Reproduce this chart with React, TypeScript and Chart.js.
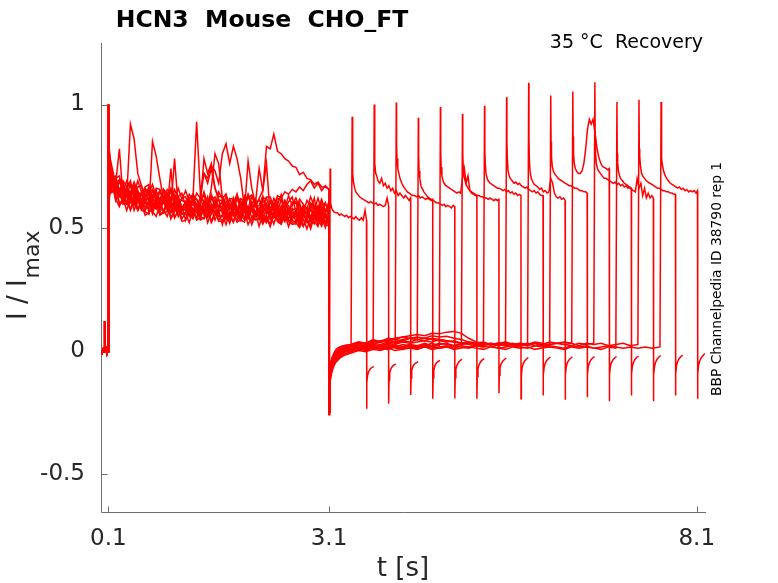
import React, { useEffect, useRef } from "react";
import { Chart, registerables } from "chart.js";

Chart.register(...registerables);

// ---------- axes / labels ----------
const TITLE = "HCN3  Mouse  CHO_FT";
const SUBTITLE = "35 °C  Recovery";
const SIDE_NOTE = "BBP Channelpedia ID 38790 rep 1";
const X_LABEL = "t [s]";
const Y_LABEL_MAIN = "I / I";
const Y_LABEL_SUB = "max";
const X_TICKS = [0.1, 3.1, 8.1];
const X_TICK_LABELS = ["0.1", "3.1", "8.1"];
const Y_TICKS = [-0.5, 0, 0.5, 1];
const Y_TICK_LABELS = ["-0.5", "0", "0.5", "1"];
const X_MIN = 0;
const X_MAX = 8.226;
const Y_MIN = -0.66;
const Y_MAX = 1.25;

// ---------- time grids (s) ----------
const BASE0_T = [0, 0.015, 0.03, 0.045, 0.05, 0.055, 0.065, 0.08, 0.09, 0.099];
const BASE0_V = [0, -0.01, 0.005, -0.005, 0.12, 0.0, 0.01, -0.01, 0.005, -0.005];

const PRE_T = [
  0.1, 0.104, 0.112, 0.125,
  0.15, 0.2, 0.25, 0.3, 0.35, 0.4, 0.45, 0.5, 0.55, 0.6,
  0.65, 0.7, 0.75, 0.8, 0.85, 0.9, 0.95, 1.0, 1.05, 1.1,
  1.15, 1.2, 1.25, 1.3, 1.35, 1.4, 1.45, 1.5, 1.55, 1.6,
  1.65, 1.7, 1.75, 1.8, 1.85, 1.9, 1.95, 2.0, 2.05, 2.1,
  2.15, 2.2, 2.25, 2.3, 2.35, 2.4, 2.45, 2.5, 2.55, 2.6,
  2.65, 2.7, 2.75, 2.8, 2.85, 2.9, 2.95, 3.0, 3.05, 3.1,
];

// prepulse (0.1 – 3.1 s), one array per sweep
const PRE_0 = [1.0, 0.84, 0.74, 0.70,
  0.70, 0.63, 0.65, 0.60, 0.645, 0.62, 0.595, 0.645, 0.60, 0.585,
  0.595, 0.63, 0.58, 0.605, 0.565, 0.61, 0.60, 0.565, 0.615, 0.57,
  0.605, 0.565, 0.545, 0.595, 0.575, 0.555, 0.605, 0.555, 0.585, 0.545,
  0.547, 0.577, 0.597, 0.547, 0.557, 0.597, 0.537, 0.577, 0.587, 0.547,
  0.569, 0.529, 0.579, 0.579, 0.539, 0.549, 0.589, 0.529, 0.559, 0.579,
  0.52, 0.57, 0.55, 0.53, 0.58, 0.54, 0.53, 0.57, 0.52, 0.56];
const PRE_1 = [1.0, 0.88, 0.79, 0.74,
  0.70, 0.71, 0.65, 0.67, 0.625, 0.92, 0.86, 0.72, 0.67, 0.625,
  0.665, 0.62, 0.60, 0.645, 0.625, 0.60, 0.65, 0.595, 0.625, 0.58,
  0.585, 0.615, 0.635, 0.585, 0.595, 0.635, 0.575, 0.615, 0.625, 0.585,
  0.607, 0.567, 0.617, 0.617, 0.577, 0.587, 0.627, 0.567, 0.597, 0.617,
  0.559, 0.609, 0.589, 0.569, 0.619, 0.579, 0.569, 0.609, 0.559, 0.599,
  0.60, 0.56, 0.59, 0.55, 0.60, 0.58, 0.56, 0.61, 0.57, 0.56];
const PRE_2 = [0.99, 0.80, 0.68, 0.64,
  0.685, 0.615, 0.585, 0.625, 0.60, 0.575, 0.62, 0.57, 0.595, 0.55,
  0.56, 0.585, 0.605, 0.55, 0.56, 0.595, 0.535, 0.57, 0.58, 0.535,
  0.56, 0.52, 0.57, 0.57, 0.53, 0.54, 0.58, 0.52, 0.55, 0.57,
  0.512, 0.562, 0.542, 0.522, 0.572, 0.532, 0.522, 0.562, 0.512, 0.552,
  0.554, 0.514, 0.544, 0.504, 0.554, 0.534, 0.514, 0.564, 0.524, 0.514,
  0.515, 0.555, 0.505, 0.535, 0.495, 0.545, 0.535, 0.505, 0.555, 0.515];
const PRE_3 = [1.0, 0.90, 0.80, 0.76,
  0.70, 0.70, 0.71, 0.65, 0.655, 0.69, 0.625, 0.665, 0.67, 0.625,
  0.655, 0.61, 0.66, 0.655, 0.615, 0.62, 0.66, 0.595, 0.625, 0.64,
  0.585, 0.635, 0.615, 0.93, 0.645, 0.72, 0.68, 0.74, 0.66, 0.625,
  0.627, 0.587, 0.617, 0.577, 0.627, 0.607, 0.587, 0.637, 0.597, 0.587,
  0.589, 0.629, 0.579, 0.609, 0.569, 0.619, 0.609, 0.579, 0.629, 0.589,
  0.62, 0.58, 0.56, 0.61, 0.59, 0.57, 0.62, 0.57, 0.60, 0.56];
const PRE_4 = [1.0, 0.83, 0.73, 0.69,
  0.68, 0.61, 0.65, 0.64, 0.595, 0.60, 0.635, 0.575, 0.60, 0.615,
  0.565, 0.85, 0.79, 0.70, 0.615, 0.57, 0.56, 0.595, 0.545, 0.58,
  0.585, 0.545, 0.575, 0.535, 0.585, 0.565, 0.545, 0.595, 0.555, 0.545,
  0.547, 0.587, 0.537, 0.567, 0.527, 0.577, 0.567, 0.537, 0.587, 0.547,
  0.579, 0.539, 0.519, 0.569, 0.549, 0.529, 0.579, 0.529, 0.559, 0.519,
  0.52, 0.55, 0.57, 0.52, 0.53, 0.57, 0.51, 0.55, 0.56, 0.52];
const PRE_5 = [1.0, 0.86, 0.77, 0.72,
  0.66, 0.68, 0.82, 0.62, 0.665, 0.62, 0.605, 0.645, 0.59, 0.625,
  0.635, 0.59, 0.62, 0.575, 0.625, 0.60, 0.58, 0.78, 0.585, 0.57,
  0.575, 0.615, 0.565, 0.595, 0.555, 0.605, 0.595, 0.565, 0.615, 0.575,
  0.607, 0.567, 0.547, 0.597, 0.577, 0.557, 0.607, 0.557, 0.587, 0.547,
  0.549, 0.579, 0.599, 0.549, 0.559, 0.599, 0.539, 0.579, 0.589, 0.549,
  0.57, 0.53, 0.58, 0.58, 0.54, 0.55, 0.59, 0.53, 0.56, 0.58];
const PRE_6 = [1.0, 0.91, 0.82, 0.78,
  0.745, 0.675, 0.695, 0.645, 0.69, 0.665, 0.64, 0.69, 0.645, 0.63,
  0.64, 0.675, 0.625, 0.65, 0.61, 0.655, 0.645, 0.61, 0.66, 0.615,
  0.65, 0.61, 0.59, 0.64, 0.62, 0.72, 0.70, 0.75, 0.73, 0.68,
  0.80, 0.84, 0.76, 0.83, 0.78, 0.70, 0.582, 0.622, 0.632, 0.592,
  0.614, 0.574, 0.624, 0.624, 0.584, 0.594, 0.634, 0.574, 0.604, 0.624,
  0.565, 0.615, 0.595, 0.575, 0.625, 0.585, 0.575, 0.615, 0.565, 0.605];
const PRE_7 = [0.98, 0.78, 0.67, 0.64,
  0.645, 0.655, 0.595, 0.615, 0.57, 0.615, 0.60, 0.57, 0.615, 0.57,
  0.61, 0.565, 0.545, 0.59, 0.57, 0.545, 0.595, 0.54, 0.57, 0.525,
  0.53, 0.56, 0.58, 0.53, 0.54, 0.58, 0.52, 0.56, 0.57, 0.53,
  0.552, 0.512, 0.562, 0.562, 0.522, 0.532, 0.572, 0.512, 0.542, 0.562,
  0.504, 0.554, 0.534, 0.514, 0.564, 0.524, 0.514, 0.554, 0.504, 0.544,
  0.545, 0.505, 0.535, 0.495, 0.545, 0.525, 0.505, 0.555, 0.515, 0.505];
const PRE_8 = [1.0, 0.87, 0.78, 0.73,
  0.73, 0.66, 0.63, 0.67, 0.645, 0.62, 0.665, 0.615, 0.64, 0.595,
  0.605, 0.63, 0.65, 0.595, 0.605, 0.64, 0.58, 0.615, 0.625, 0.58,
  0.605, 0.565, 0.615, 0.615, 0.575, 0.585, 0.625, 0.565, 0.595, 0.615,
  0.557, 0.607, 0.587, 0.567, 0.617, 0.577, 0.567, 0.77, 0.66, 0.597,
  0.74, 0.65, 0.76, 0.549, 0.599, 0.579, 0.559, 0.609, 0.569, 0.559,
  0.56, 0.60, 0.55, 0.58, 0.54, 0.59, 0.58, 0.55, 0.60, 0.56];
const PRE_9 = [1.0, 0.82, 0.71, 0.67,
  0.645, 0.645, 0.655, 0.595, 0.60, 0.635, 0.57, 0.61, 0.615, 0.57,
  0.60, 0.555, 0.605, 0.60, 0.56, 0.565, 0.605, 0.54, 0.57, 0.585,
  0.53, 0.58, 0.56, 0.54, 0.59, 0.55, 0.54, 0.58, 0.53, 0.57,
  0.572, 0.532, 0.562, 0.522, 0.572, 0.552, 0.532, 0.582, 0.542, 0.532,
  0.534, 0.574, 0.524, 0.554, 0.514, 0.564, 0.554, 0.524, 0.574, 0.534,
  0.565, 0.525, 0.505, 0.555, 0.535, 0.515, 0.565, 0.515, 0.545, 0.505];
const PRE_10 = [1.0, 0.88, 0.79, 0.74,
  0.72, 0.65, 0.69, 0.68, 0.635, 0.64, 0.675, 0.615, 0.64, 0.655,
  0.605, 0.65, 0.63, 0.605, 0.655, 0.61, 0.60, 0.635, 0.585, 0.62,
  0.625, 0.585, 0.615, 0.575, 0.625, 0.605, 0.585, 0.635, 0.595, 0.585,
  0.587, 0.627, 0.577, 0.607, 0.567, 0.617, 0.607, 0.577, 0.627, 0.587,
  0.619, 0.65, 0.83, 0.82, 0.88, 0.81, 0.80, 0.78, 0.77, 0.75,
  0.745, 0.715, 0.725, 0.70, 0.695, 0.675, 0.685, 0.665, 0.665, 0.655];
const PRE_11 = [1.0, 0.84, 0.75, 0.70,
  0.645, 0.665, 0.635, 0.605, 0.65, 0.605, 0.59, 0.63, 0.575, 0.61,
  0.62, 0.575, 0.605, 0.56, 0.61, 0.585, 0.565, 0.61, 0.57, 0.555,
  0.56, 0.60, 0.55, 0.58, 0.54, 0.59, 0.58, 0.66, 0.80, 0.76,
  0.62, 0.552, 0.532, 0.582, 0.562, 0.542, 0.592, 0.542, 0.572, 0.532,
  0.534, 0.564, 0.584, 0.534, 0.544, 0.584, 0.524, 0.564, 0.574, 0.534,
  0.555, 0.515, 0.565, 0.565, 0.525, 0.535, 0.575, 0.515, 0.545, 0.565];
const PRE_12 = [1.0, 0.90, 0.81, 0.77,
  0.70, 0.70, 0.65, 0.69, 0.665, 0.64, 0.685, 0.645, 0.63, 0.665,
  0.675, 0.62, 0.65, 0.605, 0.655, 0.64, 0.61, 0.655, 0.615, 0.61,
  0.605, 0.585, 0.635, 0.615, 0.595, 0.645, 0.595, 0.625, 0.585, 0.645,
  0.617, 0.637, 0.587, 0.597, 0.637, 0.577, 0.617, 0.627, 0.587, 0.587,
  0.569, 0.619, 0.619, 0.579, 0.589, 0.63, 0.62, 0.645, 0.635, 0.655,
  0.645, 0.665, 0.65, 0.675, 0.69, 0.66, 0.68, 0.65, 0.67, 0.655];
const PRE_13 = [1.0, 0.85, 0.76, 0.71,
  0.675, 0.685, 0.625, 0.645, 0.60, 0.645, 0.63, 0.60, 0.645, 0.60,
  0.64, 0.595, 0.575, 0.62, 0.60, 0.575, 0.74, 0.57, 0.60, 0.555,
  0.56, 0.59, 0.61, 0.56, 0.57, 0.61, 0.55, 0.59, 0.60, 0.56,
  0.582, 0.542, 0.592, 0.592, 0.552, 0.562, 0.602, 0.542, 0.572, 0.592,
  0.534, 0.584, 0.564, 0.544, 0.594, 0.554, 0.544, 0.584, 0.534, 0.574,
  0.575, 0.535, 0.565, 0.525, 0.575, 0.62, 0.535, 0.585, 0.545, 0.535];
const PRE_14 = [1.0, 0.87, 0.78, 0.73,
  0.695, 0.645, 0.685, 0.655, 0.63, 0.675, 0.62, 0.65, 0.605, 0.66,
  0.64, 0.655, 0.605, 0.61, 0.65, 0.585, 0.625, 0.63, 0.59, 0.585,
  0.57, 0.62, 0.62, 0.58, 0.59, 0.78, 0.72, 0.76, 0.66, 0.61,
  0.612, 0.592, 0.572, 0.622, 0.582, 0.572, 0.612, 0.562, 0.602, 0.562,
  0.564, 0.594, 0.554, 0.604, 0.584, 0.564, 0.614, 0.574, 0.564, 0.604,
  0.605, 0.555, 0.585, 0.545, 0.595, 0.585, 0.555, 0.605, 0.565, 0.565];
const PRE_15 = [0.99, 0.80, 0.70, 0.66,
  0.67, 0.66, 0.60, 0.60, 0.635, 0.57, 0.605, 0.615, 0.57, 0.565,
  0.555, 0.60, 0.60, 0.555, 0.565, 0.60, 0.54, 0.565, 0.585, 0.57,
  0.575, 0.555, 0.535, 0.585, 0.545, 0.535, 0.575, 0.525, 0.565, 0.525,
  0.527, 0.557, 0.517, 0.567, 0.547, 0.527, 0.577, 0.537, 0.527, 0.567,
  0.569, 0.519, 0.549, 0.509, 0.559, 0.549, 0.519, 0.569, 0.529, 0.529,
  0.52, 0.50, 0.55, 0.53, 0.51, 0.56, 0.51, 0.54, 0.50, 0.56];
const PRE = [PRE_0, PRE_1, PRE_2, PRE_3, PRE_4, PRE_5, PRE_6, PRE_7,
  PRE_8, PRE_9, PRE_10, PRE_11, PRE_12, PRE_13, PRE_14, PRE_15];

// interval after the prepulse (3.1 s – test onset)
const HEAD_T = [3.101, 3.105, 3.11, 3.12, 3.14, 3.17, 3.2, 3.25, 3.3];
const INT_HEAD = [
  [-0.24, -0.16, -0.11],
  [-0.24, -0.17, -0.12, -0.08, -0.05, -0.03, -0.015, 0.0, 0.008],
  [-0.26, -0.2, -0.15, -0.11, -0.075, -0.05, -0.035, -0.02, -0.008],
  [-0.22, -0.15, -0.1, -0.065, -0.04, -0.02, -0.008, 0.005, 0.012],
  [-0.25, -0.16, -0.1, -0.06, -0.03, -0.01, 0.005, 0.015, 0.02],
  [-0.25, -0.19, -0.14, -0.1, -0.07, -0.045, -0.03, -0.015, -0.005],
  [-0.23, -0.15, -0.1, -0.065, -0.04, -0.02, -0.005, 0.005, 0.01],
  [-0.26, -0.2, -0.15, -0.11, -0.08, -0.055, -0.04, -0.025, -0.015],
  [-0.24, -0.17, -0.12, -0.08, -0.05, -0.03, -0.015, -0.005, 0.005],
  [-0.25, -0.16, -0.1, -0.065, -0.04, -0.02, -0.005, 0.008, 0.015],
  [-0.24, -0.18, -0.13, -0.095, -0.065, -0.045, -0.03, -0.018, -0.008],
  [-0.22, -0.14, -0.09, -0.055, -0.03, -0.01, 0.005, 0.015, 0.02],
  [-0.25, -0.17, -0.12, -0.08, -0.05, -0.03, -0.015, 0.0, 0.008],
  [-0.26, -0.2, -0.15, -0.115, -0.085, -0.06, -0.045, -0.03, -0.02],
  [-0.24, -0.17, -0.12, -0.085, -0.055, -0.035, -0.02, -0.008, 0.0],
  [-0.25, -0.18, -0.13, -0.09, -0.06, -0.04, -0.025, -0.012, -0.004],
];
const BODY_T = [
  3.4, 3.5, 3.6, 3.7, 3.8, 3.9, 4.0, 4.1, 4.2, 4.3,
  4.4, 4.5, 4.6, 4.7, 4.8, 4.9, 5.0, 5.1, 5.2, 5.3,
  5.4, 5.5, 5.6, 5.7, 5.8, 5.9, 6.0, 6.1, 6.2, 6.3,
  6.4, 6.5, 6.6, 6.7, 6.8, 6.9, 7.0, 7.1, 7.2, 7.3,
  7.4, 7.5, 7.6,
];
const INT_BODY = [
  [],
  [0.01],
  [0.02, 0.01, 0.025, 0.015],
  [0.0, 0.015, 0.005, 0.02, 0.01, 0.025, 0.015],
  [0.025, 0.035, 0.03, 0.045, 0.035, 0.05, 0.045, 0.055, 0.05, 0.045],
  [0.005, 0.0, 0.015, 0.005, 0.02, 0.01, 0.02, 0.015, 0.025, 0.015,
    0.02, 0.03, 0.02],
  [0.015, 0.025, 0.02, 0.03, 0.025, 0.035, 0.03, 0.04, 0.035, 0.045,
    0.04, 0.05, 0.045, 0.04, 0.035, 0.03],
  [-0.005, 0.005, 0.0, 0.01, 0.005, 0.015, 0.01, 0.005, 0.015, 0.01,
    0.02, 0.01, 0.015, 0.02, 0.01, 0.02, 0.015, 0.02, 0.015],
  [0.01, 0.02, 0.015, 0.025, 0.02, 0.03, 0.025, 0.035, 0.03, 0.035,
    0.04, 0.035, 0.045, 0.04, 0.035, 0.03, 0.035, 0.025, 0.03, 0.025,
    0.03, 0.02],
  [0.02, 0.03, 0.025, 0.035, 0.04, 0.045, 0.05, 0.055, 0.06, 0.065,
    0.06, 0.07, 0.068, 0.075, 0.078, 0.07, 0.05, 0.035, 0.03, 0.025,
    0.03, 0.02, 0.025, 0.02, 0.025],
  [0.0, 0.01, 0.005, 0.015, 0.01, 0.02, 0.015, 0.025, 0.02, 0.015,
    0.025, 0.02, 0.03, 0.025, 0.02, 0.03, 0.025, 0.02, 0.03, 0.025,
    0.02, 0.03, 0.02, 0.025, 0.03, 0.02, 0.025, 0.02],
  [0.025, 0.035, 0.03, 0.04, 0.035, 0.04, 0.045, 0.04, 0.05, 0.045,
    0.05, 0.045, 0.04, 0.035, 0.04, 0.03, 0.035, 0.03, 0.035, 0.025,
    0.03, 0.035, 0.025, 0.03, 0.025, 0.035, 0.03, 0.025, 0.03, 0.035,
    0.03],
  [0.015, 0.025, 0.02, 0.03, 0.035, 0.04, 0.035, 0.045, 0.05, 0.055,
    0.05, 0.06, 0.055, 0.058, 0.05, 0.045, 0.035, 0.03, 0.025, 0.03,
    0.02, 0.025, 0.03, 0.02, 0.025, 0.03, 0.02, 0.025, 0.03, 0.025,
    0.02, 0.03, 0.025, 0.03],
  [-0.01, 0.0, -0.005, 0.005, 0.0, 0.01, 0.0, 0.005, 0.01, 0.005,
    0.015, 0.005, 0.01, 0.015, 0.005, 0.01, 0.015, 0.01, 0.005, 0.015,
    0.01, 0.005, 0.015, 0.01, 0.015, 0.005, 0.01, 0.015, 0.01, 0.005,
    0.015, 0.01, 0.015, 0.01, 0.005, 0.015, 0.01],
  [0.005, 0.015, 0.01, 0.02, 0.015, 0.025, 0.02, 0.015, 0.025, 0.02,
    0.03, 0.02, 0.025, 0.03, 0.02, 0.025, 0.03, 0.025, 0.02, 0.03,
    0.025, 0.035, 0.025, 0.03, 0.02, 0.03, 0.025, 0.035, 0.03, 0.025,
    0.03, 0.02, 0.03, 0.025, 0.03, 0.02, 0.025, 0.03, 0.02, 0.025],
  [0.0, 0.01, 0.005, 0.015, 0.01, 0.005, 0.015, 0.01, 0.02, 0.01,
    0.015, 0.02, 0.01, 0.015, 0.02, 0.015, 0.01, 0.02, 0.015, 0.02,
    0.01, 0.015, 0.02, 0.015, 0.01, 0.02, 0.015, 0.02, 0.015, 0.01,
    0.02, 0.015, 0.02, 0.01, 0.015, 0.02, 0.015, 0.01, 0.015, 0.01,
    0.015, 0.01, 0.015],
];

// test pulse (onset → end), then tail
const TEST_ON = [3.115, 3.415, 3.715, 4.015, 4.315, 4.615, 4.915, 5.215,
  5.515, 5.815, 6.115, 6.415, 6.715, 7.015, 7.315, 7.615];
const TEST_OFF = [3.61, 3.91, 4.21, 4.51, 4.81, 5.11, 5.41, 5.71,
  6.01, 6.31, 6.61, 6.91, 7.21, 7.51, 7.81, 8.11];
const TEST_DT = [0, 0.004, 0.01, 0.02, 0.035, 0.05, 0.075, 0.1, 0.125, 0.15,
  0.175, 0.2, 0.225, 0.25, 0.275, 0.3, 0.325, 0.35, 0.375, 0.4,
  0.425, 0.45, 0.475, 0.495];
const TEST = [
  [0.74, 0.64, 0.60, 0.58, 0.57, 0.565, 0.56, 0.56, 0.55, 0.555, 0.55, 0.545, 0.55, 0.54, 0.545, 0.54, 0.535, 0.545, 0.535, 0.53, 0.54, 0.53, 0.57, 0.53],
  [0.95, 0.80, 0.72, 0.68, 0.66, 0.645, 0.635, 0.625, 0.62, 0.615, 0.61, 0.605, 0.60, 0.605, 0.60, 0.595, 0.60, 0.59, 0.595, 0.59, 0.585, 0.59, 0.62, 0.59],
  [1.0, 0.82, 0.76, 0.72, 0.71, 0.69, 0.68, 0.70, 0.67, 0.68, 0.66, 0.67, 0.65, 0.66, 0.64, 0.65, 0.63, 0.64, 0.63, 0.62, 0.63, 0.62, 0.61, 0.62],
  [1.008, 0.83, 0.78, 0.74, 0.72, 0.70, 0.68, 0.665, 0.655, 0.645, 0.64, 0.635, 0.63, 0.63, 0.625, 0.63, 0.62, 0.625, 0.62, 0.615, 0.62, 0.615, 0.61, 0.615],
  [0.946, 0.79, 0.73, 0.70, 0.67, 0.66, 0.645, 0.635, 0.625, 0.62, 0.615, 0.61, 0.605, 0.60, 0.60, 0.595, 0.59, 0.595, 0.585, 0.59, 0.585, 0.58, 0.59, 0.585],
  [0.99, 0.81, 0.745, 0.71, 0.69, 0.68, 0.67, 0.665, 0.66, 0.655, 0.65, 0.645, 0.64, 0.645, 0.64, 0.70, 0.74, 0.68, 0.71, 0.65, 0.64, 0.635, 0.63, 0.63],
  [0.962, 0.80, 0.745, 0.71, 0.69, 0.675, 0.66, 0.65, 0.645, 0.64, 0.635, 0.63, 0.63, 0.625, 0.625, 0.62, 0.62, 0.615, 0.62, 0.615, 0.61, 0.615, 0.61, 0.615],
  [0.995, 0.81, 0.76, 0.72, 0.70, 0.69, 0.68, 0.675, 0.67, 0.665, 0.66, 0.66, 0.655, 0.65, 0.655, 0.645, 0.65, 0.64, 0.645, 0.635, 0.64, 0.63, 0.635, 0.63],
  [1.03, 0.85, 0.78, 0.73, 0.71, 0.70, 0.69, 0.68, 0.685, 0.675, 0.68, 0.67, 0.665, 0.66, 0.665, 0.655, 0.65, 0.645, 0.65, 0.64, 0.645, 0.635, 0.63, 0.63],
  [1.088, 0.86, 0.77, 0.725, 0.70, 0.69, 0.675, 0.67, 0.665, 0.655, 0.66, 0.645, 0.65, 0.64, 0.645, 0.70, 0.68, 0.64, 0.625, 0.62, 0.625, 0.615, 0.62, 0.61],
  [1.037, 0.85, 0.79, 0.75, 0.73, 0.72, 0.71, 0.70, 0.695, 0.69, 0.685, 0.68, 0.675, 0.67, 0.67, 0.665, 0.66, 0.66, 0.655, 0.65, 0.65, 0.645, 0.645, 0.64],
  [1.053, 0.87, 0.80, 0.76, 0.74, 0.73, 0.72, 0.72, 0.73, 0.76, 0.82, 0.90, 0.94, 0.92, 0.94, 0.89, 0.83, 0.79, 0.765, 0.75, 0.745, 0.74, 0.735, 0.74],
  [1.09, 0.86, 0.80, 0.76, 0.74, 0.73, 0.72, 0.71, 0.70, 0.70, 0.695, 0.69, 0.685, 0.68, 0.685, 0.675, 0.68, 0.67, 0.675, 0.665, 0.67, 0.66, 0.665, 0.66],
  [1.01, 0.80, 0.765, 0.73, 0.71, 0.70, 0.69, 0.68, 0.675, 0.67, 0.66, 0.655, 0.65, 0.645, 0.70, 0.66, 0.68, 0.63, 0.66, 0.62, 0.64, 0.62, 0.63, 0.62],
  [1.019, 0.82, 0.79, 0.75, 0.72, 0.71, 0.70, 0.69, 0.685, 0.68, 0.675, 0.67, 0.665, 0.66, 0.66, 0.655, 0.65, 0.65, 0.645, 0.645, 0.64, 0.64, 0.635, 0.635],
  [1.01, 0.82, 0.78, 0.75, 0.73, 0.715, 0.70, 0.69, 0.68, 0.675, 0.67, 0.665, 0.66, 0.665, 0.655, 0.66, 0.65, 0.655, 0.645, 0.65, 0.645, 0.65, 0.64, 0.65],
];
const TAIL_DT = [0.001, 0.006, 0.015, 0.03, 0.05, 0.075, 0.1];
const TAIL = [
  [-0.236, -0.13, -0.10, -0.085, -0.075, -0.068, -0.065],
  [-0.216, -0.12, -0.09, -0.075, -0.065, -0.058, -0.055],
  [-0.18, -0.11, -0.08, -0.065, -0.055, -0.05, -0.045],
  [-0.196, -0.11, -0.08, -0.062, -0.05, -0.044, -0.04],
  [-0.195, -0.11, -0.075, -0.06, -0.048, -0.04, -0.036],
  [-0.196, -0.105, -0.075, -0.058, -0.046, -0.038, -0.033],
  [-0.173, -0.10, -0.07, -0.055, -0.044, -0.036, -0.03],
  [-0.196, -0.10, -0.07, -0.054, -0.042, -0.034, -0.028],
  [-0.183, -0.10, -0.068, -0.052, -0.04, -0.032, -0.027],
  [-0.2, -0.10, -0.068, -0.05, -0.039, -0.031, -0.026],
  [-0.19, -0.10, -0.066, -0.05, -0.038, -0.03, -0.025],
  [-0.206, -0.10, -0.066, -0.05, -0.038, -0.03, -0.024],
  [-0.183, -0.095, -0.064, -0.048, -0.036, -0.027, -0.022],
  [-0.206, -0.10, -0.066, -0.048, -0.035, -0.026, -0.02],
  [-0.183, -0.095, -0.062, -0.045, -0.033, -0.024, -0.018],
  [-0.196, -0.095, -0.06, -0.042, -0.03, -0.02, -0.012],
];

// ---------- styles ----------
const W = 778;
const H = 583;
const TRACE_COLOR = "#ff0000";
const AXIS_COLOR = "#6e6e6e";
const TEXT_COLOR = "#262626";
const FONT = "'DejaVu Sans', sans-serif";

type P = { x: number; y: number };

function buildSweep(k: number): P[] {
  const pts: P[] = [];
  BASE0_V.forEach((v, i) => pts.push({ x: BASE0_T[i], y: v }));
  PRE[k].forEach((v, i) => pts.push({ x: PRE_T[i], y: v }));
  INT_HEAD[k].forEach((v, i) => pts.push({ x: HEAD_T[i], y: v }));
  INT_BODY[k].forEach((v, i) => pts.push({ x: BODY_T[i], y: v }));
  TEST[k].forEach((v, i) => pts.push({ x: TEST_ON[k] + TEST_DT[i], y: v }));
  TAIL[k].forEach((v, i) => pts.push({ x: TEST_OFF[k] + TAIL_DT[i], y: v }));
  return pts;
}

const axesPlugin = {
  id: "matlabAxes",
  beforeDatasetsDraw(chart: any) {
    const { ctx, chartArea: a, scales } = chart;
    const xs = scales.x;
    const ys = scales.y;
    ctx.save();
    ctx.strokeStyle = AXIS_COLOR;
    ctx.lineWidth = 1;
    const L = Math.round(a.left) + 0.5;
    const B = Math.round(a.bottom) - 0.5;
    ctx.beginPath();
    ctx.moveTo(L, a.top);
    ctx.lineTo(L, B);
    ctx.lineTo(a.right, B);
    X_TICKS.forEach((v) => {
      const px = Math.round(xs.getPixelForValue(v)) + 0.5;
      ctx.moveTo(px, B);
      ctx.lineTo(px, B - 6);
    });
    Y_TICKS.forEach((v) => {
      const py = Math.round(ys.getPixelForValue(v)) + 0.5;
      ctx.moveTo(L, py);
      ctx.lineTo(L + 6, py);
    });
    ctx.stroke();
    ctx.restore();
  },
  afterDraw(chart: any) {
    const { ctx } = chart;
    ctx.save();
    ctx.fillStyle = "#000000";
    ctx.textBaseline = "alphabetic";
    // title
    ctx.font = `bold 23.5px ${FONT}`;
    ctx.textAlign = "center";
    ctx.fillText(TITLE, 262, 27);
    // subtitle
    ctx.font = `19px ${FONT}`;
    ctx.textAlign = "right";
    ctx.fillText(SUBTITLE, 703, 48);
    // x label
    ctx.fillStyle = TEXT_COLOR;
    ctx.font = `26px ${FONT}`;
    ctx.textAlign = "center";
    ctx.fillText(X_LABEL, 403, 576);
    // y label with subscript
    ctx.save();
    ctx.translate(26, 320);
    ctx.rotate(-Math.PI / 2);
    ctx.textAlign = "left";
    ctx.font = `26px ${FONT}`;
    ctx.fillText(Y_LABEL_MAIN, 0, 0);
    const wMain = ctx.measureText(Y_LABEL_MAIN).width;
    ctx.font = `22px ${FONT}`;
    ctx.fillText(Y_LABEL_SUB, wMain + 1, 13);
    ctx.restore();
    // side note
    ctx.save();
    ctx.fillStyle = "#000000";
    ctx.translate(721, 396);
    ctx.rotate(-Math.PI / 2);
    ctx.textAlign = "left";
    ctx.font = `13.8px ${FONT}`;
    ctx.fillText(SIDE_NOTE, 0, 0);
    ctx.restore();
    ctx.restore();
  },
};

export default function App() {
  const ref = useRef<HTMLCanvasElement>(null);
  useEffect(() => {
    document.body.style.margin = "0";
    const datasets = PRE.map((_, k) => ({
      label: `sweep ${k + 1}`,
      data: buildSweep(k),
      borderColor: TRACE_COLOR,
      backgroundColor: TRACE_COLOR,
      borderWidth: 1.5,
      pointRadius: 0,
      fill: false,
      tension: 0,
    }));
    const chart = new Chart(ref.current as HTMLCanvasElement, {
      type: "line",
      data: { datasets },
      options: {
        animation: false,
        responsive: false,
        parsing: false,
        normalized: true,
        layout: { padding: { left: 0, right: W - 706, top: 43, bottom: 0 } },
        plugins: { legend: { display: false }, tooltip: { enabled: false }, title: { display: false } },
        scales: {
          x: {
            type: "linear",
            min: X_MIN,
            max: X_MAX,
            grid: { display: false, drawTicks: false },
            border: { display: false },
            afterBuildTicks: (s: any) => {
              s.ticks = X_TICKS.map((v) => ({ value: v }));
            },
            afterFit: (s: any) => {
              s.height = H - 513;
            },
            ticks: {
              autoSkip: false,
              maxRotation: 0,
              padding: 12,
              color: TEXT_COLOR,
              font: { family: FONT, size: 23 },
              callback: (_v: any, i: number) => X_TICK_LABELS[i],
            },
          },
          y: {
            type: "linear",
            min: Y_MIN,
            max: Y_MAX,
            grid: { display: false, drawTicks: false },
            border: { display: false },
            afterBuildTicks: (s: any) => {
              s.ticks = Y_TICKS.map((v) => ({ value: v }));
            },
            afterFit: (s: any) => {
              s.width = 101;
            },
            ticks: {
              autoSkip: false,
              padding: 16,
              color: TEXT_COLOR,
              font: { family: FONT, size: 23 },
              callback: (_v: any, i: number) => Y_TICK_LABELS[i],
            },
          },
        },
      },
      plugins: [axesPlugin],
    } as any);
    return () => chart.destroy();
  }, []);
  return (
    <div style={{ position: "absolute", left: 0, top: 0, width: W, height: H, background: "#ffffff" }}>
      <canvas ref={ref} width={W} height={H} style={{ display: "block", width: W, height: H }} />
    </div>
  );
}
